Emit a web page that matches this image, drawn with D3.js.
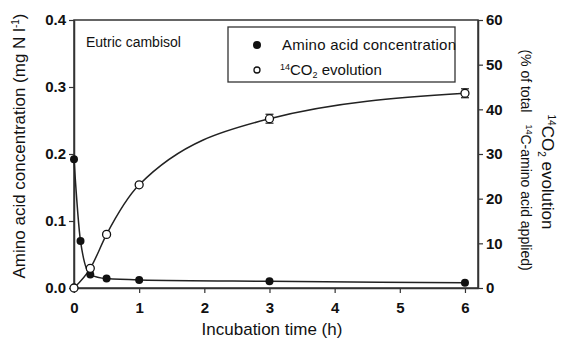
<!DOCTYPE html>
<html><head><meta charset="utf-8">
<script src="https://cdn.jsdelivr.net/npm/d3@7"></script>
<style>
body{margin:0;background:#fff;}
text{font-family:"Liberation Sans",Arial,sans-serif;fill:#111;}
</style></head>
<body><svg id="c" width="565" height="341"></svg>
<script>
const times = [0, 0.1, 0.25, 0.5, 1, 3, 6];
const aminoAcid = [0.192, 0.070, 0.020, 0.014, 0.012, 0.010, 0.008];
const co2Times = [0, 0.25, 0.5, 1, 3, 6];
const co2Evolution = [0, 4.4, 12.0, 23.1, 37.9, 43.6];
const co2Err = [0, 0, 0, 0, 1.0, 1.0];
const xTicks = [0, 1, 2, 3, 4, 5, 6];
const yLeftTicks = [0.0, 0.1, 0.2, 0.3, 0.4];
const yRightTicks = [0, 10, 20, 30, 40, 50, 60];

const svg = d3.select("#c");
const L = 74, R = 478, T = 20, B = 288;
const x = d3.scaleLinear().domain([0, 6.2]).range([L, R]);
const yL = d3.scaleLinear().domain([0, 0.4]).range([B, T]);
const yR = d3.scaleLinear().domain([0, 60]).range([B, T]);

// frame
svg.append("rect").attr("x", L).attr("y", T).attr("width", R - L).attr("height", B - T)
  .attr("fill", "none").attr("stroke", "#333").attr("stroke-width", 1.5);

const ax = svg.append("g").attr("transform", `translate(0,${B})`)
  .call(d3.axisBottom(x).tickValues(xTicks).tickFormat(d3.format("d")).tickSize(5).tickSizeOuter(0));
const ayl = svg.append("g").attr("transform", `translate(${L},0)`)
  .call(d3.axisLeft(yL).tickValues(yLeftTicks).tickFormat(d3.format(".1f")).tickSize(5).tickSizeOuter(0));
const ayr = svg.append("g").attr("transform", `translate(${R},0)`)
  .call(d3.axisRight(yR).tickValues(yRightTicks).tickFormat(d3.format("d")).tickSize(5).tickSizeOuter(0));
[ax, ayl, ayr].forEach(g => {
  g.select(".domain").attr("stroke", "#333").attr("stroke-width", 1.5);
  g.selectAll(".tick line").attr("stroke", "#333").attr("stroke-width", 1.2);
  g.selectAll(".tick text").style("font-family", "'Liberation Sans',Arial,sans-serif")
    .style("font-size", "15px").style("font-weight", "bold").attr("fill", "#222");
});
ax.selectAll(".tick text").attr("dy", "1.15em");
ayl.selectAll(".tick text").attr("x", -8);

// curves
const lineA = d3.line().x((d, i) => x(times[i])).y(d => yL(d)).curve(d3.curveMonotoneX);
svg.append("path").attr("d", lineA(aminoAcid)).attr("fill", "none").attr("stroke", "#222").attr("stroke-width", 1.5);
const lineC = d3.line().x((d, i) => x(co2Times[i])).y(d => yR(d)).curve(d3.curveMonotoneX);
svg.append("path").attr("d", lineC(co2Evolution)).attr("fill", "none").attr("stroke", "#222").attr("stroke-width", 1.5);

// error bars
co2Times.forEach((t, i) => {
  if (!co2Err[i]) return;
  const g = svg.append("g").attr("stroke", "#222").attr("stroke-width", 1.2);
  g.append("line").attr("x1", x(t)).attr("x2", x(t)).attr("y1", yR(co2Evolution[i] - co2Err[i])).attr("y2", yR(co2Evolution[i] + co2Err[i]));
  [-1, 1].forEach(s => g.append("line").attr("x1", x(t) - 4).attr("x2", x(t) + 4)
    .attr("y1", yR(co2Evolution[i] + s * co2Err[i])).attr("y2", yR(co2Evolution[i] + s * co2Err[i])));
});

// points
svg.selectAll(".pa").data(aminoAcid).enter().append("circle")
  .attr("cx", (d, i) => x(times[i])).attr("cy", d => yL(d)).attr("r", 4).attr("fill", "#111");
svg.selectAll(".pc").data(co2Evolution).enter().append("circle")
  .attr("cx", (d, i) => x(co2Times[i])).attr("cy", d => yR(d)).attr("r", 4)
  .attr("fill", "#fff").attr("stroke", "#111").attr("stroke-width", 1.3);

// legend
svg.append("rect").attr("x", 228).attr("y", 27).attr("width", 227).attr("height", 55)
  .attr("fill", "#fff").attr("stroke", "#333").attr("stroke-width", 1.3);
svg.append("circle").attr("cx", 257).attr("cy", 45).attr("r", 4).attr("fill", "#111");
svg.append("circle").attr("cx", 257).attr("cy", 70).attr("r", 3).attr("fill", "#fff").attr("stroke", "#111").attr("stroke-width", 1.3);
svg.append("text").attr("x", 282).attr("y", 50).style("font-size", "15px").attr("textLength", 174).text("Amino acid concentration");
const lt = svg.append("text").attr("x", 280).attr("y", 75).style("font-size", "15px");
lt.append("tspan").attr("dy", "-5").style("font-size", "9px").text("14");
lt.append("tspan").attr("dy", "5").text("CO");
lt.append("tspan").attr("dy", "3").style("font-size", "9px").text("2");
lt.append("tspan").attr("dy", "-3").text(" evolution");

svg.append("text").attr("x", 86).attr("y", 47).style("font-size", "14px").text("Eutric cambisol");

// x title
svg.append("text").attr("x", 272).attr("y", 335).attr("text-anchor", "middle")
  .style("font-size", "17px").text("Incubation time (h)");

// left title
const tl = svg.append("text").attr("transform", `translate(25,146) rotate(-90)`)
  .attr("text-anchor", "middle").style("font-size", "17px");
tl.append("tspan").text("Amino acid concentration (mg N l");
tl.append("tspan").attr("dy", "-6").style("font-size", "10px").text("-1");
tl.append("tspan").attr("dy", "6").text(")");

// right titles
const tr1 = svg.append("text").attr("transform", `translate(542,172) rotate(90)`)
  .attr("text-anchor", "middle").style("font-size", "17px");
tr1.append("tspan").attr("dy", "-6").style("font-size", "10px").text("14");
tr1.append("tspan").attr("dy", "6").text("CO");
tr1.append("tspan").attr("dy", "4").style("font-size", "10px").text("2");
tr1.append("tspan").attr("dy", "-4").text(" evolution");

const tr2 = svg.append("text").attr("transform", `translate(521,160) rotate(90)`)
  .attr("text-anchor", "middle").style("font-size", "14px");
tr2.append("tspan").text("(% of total");
tr2.append("tspan").attr("dx", "12").attr("dy", "-5").style("font-size", "9px").text("14");
tr2.append("tspan").attr("dy", "5").text("C-amino acid applied)");
</script></body></html>
